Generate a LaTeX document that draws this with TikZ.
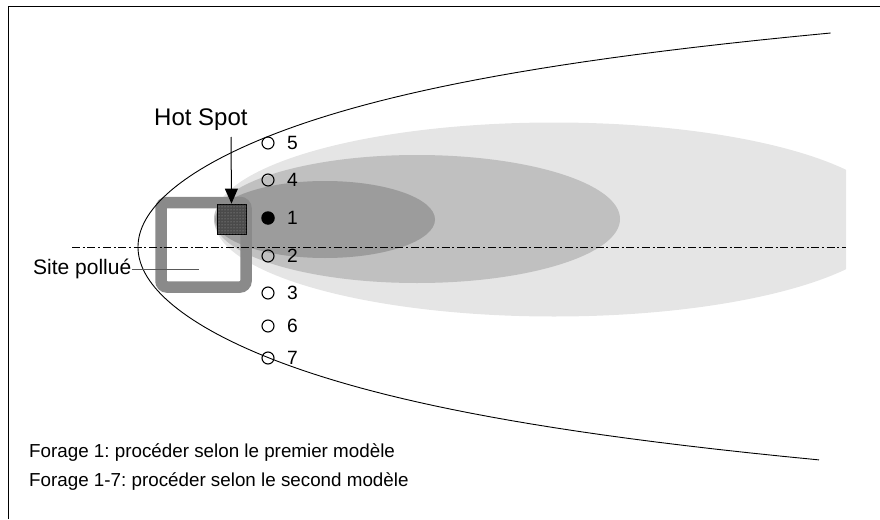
\documentclass[tikz,border=0pt]{standalone}
\usepackage{fontspec}
\setmainfont{Liberation Sans}
\usetikzlibrary{arrows.meta,patterns}
\definecolor{plumeA}{HTML}{E5E5E5}
\definecolor{plumeB}{HTML}{C0C0C0}
\definecolor{plumeC}{HTML}{9C9C9C}
\definecolor{boxgray}{HTML}{8A8A8A}
\definecolor{hotfill}{HTML}{4A4A4A}
\frenchspacing
\begin{document}
\begin{tikzpicture}[x=1pt,y=-1pt,
  well/.style={circle,draw=black,line width=1.1pt,minimum size=12pt,inner sep=0pt,fill=none},
  wellfull/.style={circle,fill=black,minimum size=13.5pt,inner sep=0pt},
  num/.style={anchor=base west,inner sep=0pt,font=\fontsize{19.2}{21}\selectfont},
  axisline/.style={line width=0.9pt,dash pattern=on 8pt off 2.7pt on 2pt off 2.7pt},
  curveline/.style={line width=0.9pt},
  legend/.style={anchor=base west,inner sep=0pt,font=\fontsize{18.8}{20}\selectfont}]
\useasboundingbox (0,0) rectangle (880,519);
% frame
\draw[line width=1pt] (8,519) -- (8,7) -- (880,7);
% plume ellipses
\begin{scope}
\clip (0,0) rectangle (846,519);
\fill[plumeA] (554,219.5) ellipse [x radius=340, y radius=97];
\end{scope}
\fill[plumeB] (417,219) ellipse [x radius=203, y radius=64];
\fill[plumeC] (325,219.5) ellipse [x radius=110, y radius=38.5];
% site box
\node[draw=boxgray,line width=11.5pt,rounded corners=6pt,minimum width=85pt,minimum height=84.5pt,inner sep=0pt] (site) at (203.5,244.75) {};
% hot spot
\node[draw=black,line width=0.8pt,fill=hotfill,minimum width=29pt,minimum height=30pt,inner sep=0pt,
  postaction={pattern=dots,pattern color=gray!70}] (hot) at (231.5,219) {};
% parabola (capture zone)
\draw[curveline] plot[domain=-2.14:2.13,samples=120,variable=\t] ({138+103*\t*\t+2.3*\t*\t*\t*\t*\t*\t},{247+100*\t});
% axis
\coordinate (axL) at (72,247);
\coordinate (axR) at (846,247);
\draw[axisline] (axL) -- (axR);
% wells
\node[well] (w5) at (268,143) {};
\node[well] (w4) at (268,180) {};
\node[wellfull] (w1) at (268,218) {};
\node[well] (w2) at (268,256) {};
\node[well] (w3) at (268,293) {};
\node[well] (w6) at (268,326) {};
\node[well] (w7) at (268,358) {};
\node[num] (n5) at (287,149.8) {5};
\node[num] (n4) at (287,186.8) {4};
\node[num] (n1) at (287,224.8) {1};
\node[num] (n2) at (287,262.8) {2};
\node[num] (n3) at (287,299.8) {3};
\node[num] (n6) at (287,332.8) {6};
\node[num] (n7) at (287,364.8) {7};
% hot spot label and arrow
\node[anchor=base west,inner sep=0pt,font=\fontsize{24}{26}\selectfont] (hotlbl) at (154,125) {Hot Spot};
\coordinate (arrstart) at (231,137);
\draw[line width=1pt,-{Triangle[width=13pt,length=15pt]}] (arrstart) -- (hot.north);
% site label
\node[anchor=base west,inner sep=0pt,font=\fontsize{21}{23}\selectfont] (sitelbl) at (33,274) {Site pollué};
\coordinate (siteend) at (199,269);
\draw[line width=1pt,color=black!65] (132,269) -- (siteend);
% legend
\node[legend] (leg1) at (29,457) {Forage 1: procéder selon le premier modèle};
\node[legend] (leg2) at (29,486) {Forage 1-7: procéder selon le second modèle};
\end{tikzpicture}
\end{document}
